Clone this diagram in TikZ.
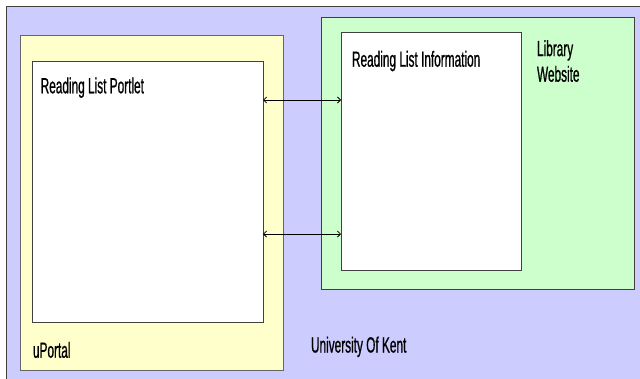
\documentclass[tikz,border=0pt]{standalone}
\usepackage{fontspec}
\newfontfamily\agency[FakeStretch=0.54,FakeBold=0.7]{Liberation Sans}
\usetikzlibrary{arrows.meta}
\definecolor{bgblue}{HTML}{CCCCFF}
\definecolor{bgyellow}{HTML}{FFFFCC}
\definecolor{bggreen}{HTML}{CCFFCC}
\definecolor{edge}{HTML}{404040}
\tikzset{
  panel/.style={draw=edge, line width=1bp, inner sep=0pt, outer sep=0pt, anchor=north west},
  lbl/.style={inner sep=0pt, outer sep=0pt, anchor=base west, font=\agency\fontsize{22}{25.7}\selectfont, text=black},
  link/.style={draw=black, line width=0.8bp, {Straight Barb[length=3bp,width=6bp]}-{Straight Barb[length=3bp,width=6bp]}}
}
\begin{document}
\begin{tikzpicture}[x=1bp,y=-1bp]
\useasboundingbox (0,0) rectangle (640,378);
\fill[white] (0,0) rectangle (640,378);
\begin{scope}
\clip (0,0) rectangle (640,378);
\node[panel, fill=bgblue, minimum width=640bp, minimum height=378bp] (uni) at (6,6) {};
\end{scope}
\node[panel, draw=gray!80!black, fill=bgyellow, minimum width=263bp, minimum height=335bp] (uportal) at (20,35) {};
\node[panel, fill=white, minimum width=231bp, minimum height=261bp] (portlet) at (32,61) {};
\node[panel, fill=bggreen, minimum width=313bp, minimum height=272bp] (library) at (321,17) {};
\node[panel, fill=white, minimum width=180bp, minimum height=238bp] (info) at (341,32) {};
\node[lbl] (tportlet) at (40.7,93.3) {Reading List Portlet};
\node[lbl] (tinfo) at (352,66.7) {Reading List Information};
\node[lbl, align=left] (tlib) at (537,81.7) {Library\\Website};
\node[lbl] (tuportal) at (33,357.7) {uPortal};
\node[lbl] (tuni) at (311,352.5) {University Of Kent};
\coordinate (ya) at (0,100);
\coordinate (yb) at (0,234);
\draw[link] (portlet.east |- ya) -- (info.west |- ya);
\draw[link] (portlet.east |- yb) -- (info.west |- yb);
\end{tikzpicture}
\end{document}
